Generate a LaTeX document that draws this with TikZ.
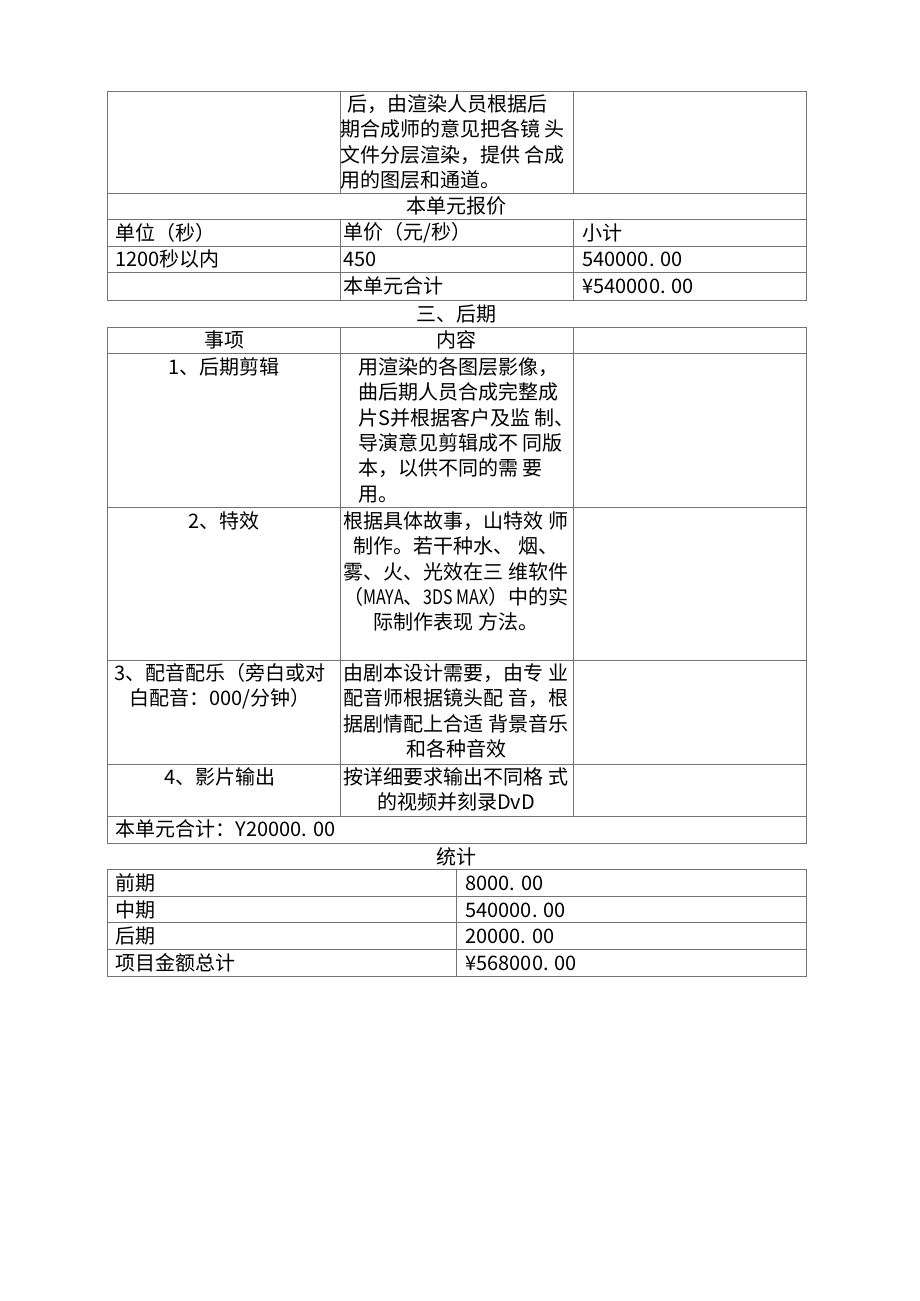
\documentclass[tikz,border=0pt]{standalone}
\usepackage{fontspec}
\setmainfont{Noto Sans CJK SC}
\newfontfamily\narrowlatin[FakeStretch=0.8]{Noto Sans CJK SC}
\tikzset{rule/.style={draw=black!55, line width=0.5pt},
  txt/.style={inner sep=0pt, font=\fontsize{10}{12.7}\selectfont},
  lft/.style={txt, anchor=west},
  blk/.style={txt, anchor=north, align=center},
  blkl/.style={txt, anchor=north west, align=left}}

\begin{document}
\begin{tikzpicture}[x=0.5pt, y=-0.5pt]

      \useasboundingbox (0,0) rectangle (920,1301);

      % first table
      \draw[rule] (107,91) rectangle (806,300);
      \draw[rule] (107,193) -- (806,193) (107,219) -- (806,219)
                  (107,246) -- (806,246) (107,272) -- (806,272);
      \draw[rule] (340,91) -- (340,193) (573,91) -- (573,193)
                  (340,219) -- (340,300) (573,219) -- (573,300);
      % second table
      \draw[rule] (107,327) rectangle (806,843);
      \draw[rule] (107,353) -- (806,353) (107,507) -- (806,507)
                  (107,660) -- (806,660) (107,764) -- (806,764)
                  (107,816) -- (806,816);
      \draw[rule] (340,327) -- (340,816) (573,327) -- (573,816);
      % statistics
      \draw[rule] (107,869) rectangle (806,976);
      \draw[rule] (107,896) -- (806,896) (107,922) -- (806,922)
                  (107,949) -- (806,949);
      \draw[rule] (456,869) -- (456,976);

      \node[blkl] (render) at (340,104-10) {\hspace*{3.5pt}后，由渲染人员根据后\\期合成师的意见把各镜 头\\文件分层渲染，提供 合成\\用的图层和通道。};
      \node[txt] (quote) at (456,206) {本单元报价};
      \node[lft] (unit) at (115,233) {单位（秒）};
      \node[lft] (price) at (343,233) {单价（元/秒）};
      \node[lft] (subt) at (582,233) {小计};
      \node[lft] (dur) at (115,259) {1200秒以内};
      \node[lft] (rate) at (343,259) {450};
      \node[lft] (amount) at (582,259) {540000. 00};
      \node[lft] (sumlbl) at (343,286) {本单元合计};
      \node[lft] (sum) at (582,286) {¥540000. 00};

      \node[txt] (post) at (456,314) {三、后期};
      \node[txt] (item) at (224,340) {事项};
      \node[txt] (content) at (456,340) {内容};

      \node[txt] (edit) at (224,367) {1、后期剪辑};
      \node[blkl] (editc) at (358,367-10) {用渲染的各图层影像，\\曲后期人员合成完整成\\片S并根据客户及监 制、\\导演意见剪辑成不 同版\\本，以供不同的需 要\\用。};
      \node[txt] (fx) at (224,521) {2、特效};
      \node[blk] (fxc) at (456,521-10) {根据具体故事，山特效 师\\制作。若干种水、 烟、\\雾、火、光效在三 维软件\\（{\narrowlatin MAYA}、{\narrowlatin 3DS MAX}）中的实\\际制作表现 方法。};
      \node[blk] (sound) at (220,673-10) {3、配音配乐（旁白或对\\白配音：000/分钟）};
      \node[blk] (soundc) at (456,673-10) {由剧本设计需要，由专 业\\配音师根据镜头配 音，根\\据剧情配上合适 背景音乐\\和各种音效};
      \node[txt] (output) at (220,777) {4、影片输出};
      \node[blk] (outputc) at (456,777-10) {按详细要求输出不同格 式\\的视频并刻录DvD};
      \node[lft] (postsum) at (115,829) {本单元合计：Y20000. 00};

      \node[txt] (stat) at (456,857) {统计};
      \foreach \k/\y/\a/\b in {1/883/前期/8000. 00, 2/910/中期/540000. 00,
                               3/936/后期/20000. 00, 4/963/项目金额总计/¥568000. 00}
      {
        \node[lft] (st\k) at (115,\y) {\a};
        \node[lft] (sv\k) at (465,\y) {\b};
      }

\end{tikzpicture}
\end{document}
